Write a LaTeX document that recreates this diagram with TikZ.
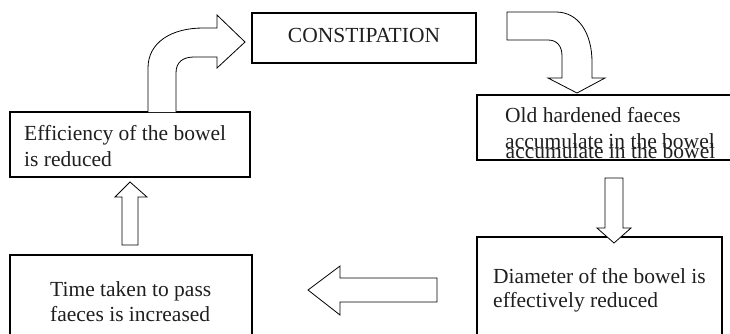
\documentclass[tikz,border=0pt]{standalone}
\usepackage{fontspec}
\setmainfont{Liberation Serif}
\begin{document}
\begin{tikzpicture}[x=1pt,y=-1pt,
  box/.style={draw, line width=1.1pt, inner sep=0pt, rectangle},
  txt/.style={font=\fontsize{21.5}{26}\selectfont, inner sep=0pt, text=black!88},
  blockarrow/.style={draw, line width=0.8pt, fill=white, line join=miter}]
\useasboundingbox (0,0) rectangle (730,333);
\clip (0,0) rectangle (730,333);
% boxes
\node[box, minimum width=224pt, minimum height=50pt] (cons) at (364,38) {};
\node[box, minimum width=263pt, minimum height=65pt] (old) at (608.5,127.5) {};
\node[box, minimum width=245pt, minimum height=108pt] (diam) at (599.5,291) {};
\node[box, minimum width=240pt, minimum height=65pt] (eff) at (130,144.5) {};
\node[box, minimum width=242pt, minimum height=90pt] (time) at (131,300) {};
% texts
\node[txt, anchor=base] (tcons) at (364,42) {CONSTIPATION};
\node[txt, anchor=base west] (told1) at (505,122) {Old hardened faeces};
\node[txt, anchor=base west] (told2) at (505,148) {accumulate in the bowel};
\node[txt, anchor=base west] (told3) at (505.5,158) {accumulate in the bowel};
\node[txt, anchor=base west] (tdiam1) at (493,283) {Diameter of the bowel is};
\node[txt, anchor=base west] (tdiam2) at (493,307) {effectively reduced};
\node[txt, anchor=base west] (teff1) at (24,140) {Efficiency of the bowel};
\node[txt, anchor=base west] (teff2) at (24,166) {is reduced};
\node[txt, anchor=base west] (ttime1) at (50,296) {Time taken to pass};
\node[txt, anchor=base west] (ttime2) at (50,321) {faeces is increased};
% redraw bottom line of the old box over the duplicated text
\draw[line width=1.1pt] (old.south west) -- (old.south east);
% curved arrow from efficiency box to constipation
\draw[blockarrow] (148,112) -- (148,68) .. controls (148,42) and (172,28) .. (203,28)
  -- (217,28) -- (217,15) -- (245,42) -- (217,68) -- (217,57) -- (194,57)
  .. controls (183,57) and (176,62) .. (176,73) -- (176,112);
% curved arrow from constipation to old box
\draw[blockarrow] (507,12) -- (556,12) .. controls (579,12) and (592,34) .. (592,62)
  -- (592,78) -- (605,78) -- (577,93) -- (548,78) -- (562,78) -- (562,56)
  .. controls (562,46) and (557,40) .. (548,40) -- (507,40) -- cycle;
% down arrow
\draw[blockarrow] (605,178) -- (623,178) -- (623,228) -- (631,228) -- (614,243)
  -- (597,228) -- (605,228) -- cycle;
% left arrow
\draw[blockarrow] (437,278) -- (340,278) -- (340,266) -- (308,290) -- (340,315)
  -- (340,302) -- (437,302) -- cycle;
% up arrow
\draw[blockarrow] (122,245) -- (122,197) -- (115,197) -- (130,182) -- (147,197)
  -- (138,197) -- (138,245) -- cycle;
\end{tikzpicture}
\end{document}
